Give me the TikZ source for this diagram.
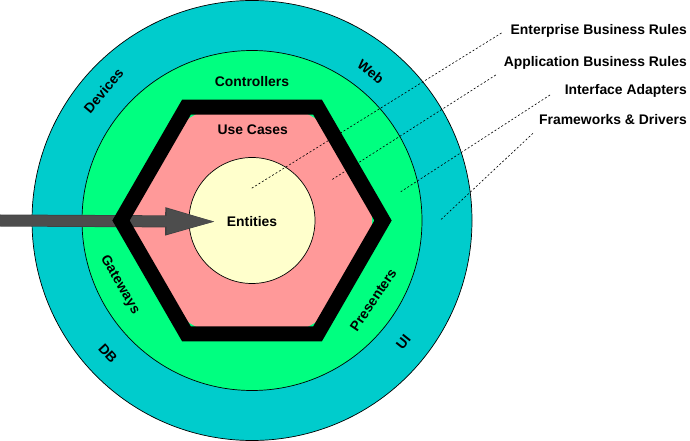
\documentclass[tikz,border=0pt]{standalone}
\usepackage{fontspec}
\setmainfont{Liberation Sans}
\usetikzlibrary{arrows.meta}

\definecolor{ringteal}{HTML}{00CCCC}
\definecolor{ringgreen}{HTML}{00FF80}
\definecolor{ringpink}{HTML}{FF9999}
\definecolor{coreyellow}{HTML}{FFFFCC}
\definecolor{arrowgray}{HTML}{4D4D4D}

\tikzset{
  ring/.style={draw=black, line width=0.7pt},
  lbl/.style={font=\bfseries\fontsize{13.9}{16}\selectfont, inner sep=0pt},
  leader/.style={draw=black, line width=0.6pt, dash pattern=on 2pt off 2pt},
}

\begin{document}
\begin{tikzpicture}[x=1pt,y=1pt]
\useasboundingbox (-252,-220.5) rectangle (438,220.5);
\draw[ring, fill=ringteal] (0,0) circle (220);
\draw[ring, fill=ringgreen] (0,0) circle (170);
\fill[ringpink] (0,0) circle (120);
\draw[ring, fill=coreyellow] (0,0) circle (63);

\node[lbl] (ent) at (0,-1.2) {Entities};
\coordinate (src) at (-252,0);
\draw[black!75, line width=12pt, -{Triangle[length=56pt,width=24pt]}, shorten >=5.5pt] (src) -- (ent.west);
\draw[arrowgray, line width=10.5pt, -{Triangle[length=53.5pt,width=22pt]}, shorten >=6.5pt] (src) -- (ent.west);

\draw[line width=15pt, line join=miter] (0:131) \foreach \a in {60,120,...,300} { -- (\a:131) } -- cycle;

\node[lbl] (uc) at (0.8,90.5) {Use Cases};
\node[lbl] (ctrl) at (0,138.8) {Controllers};
\node[lbl, rotate=-60] (gw) at (206:147) {Gateways};
\node[lbl, rotate=56] (pres) at (-33.2:145) {Presenters};
\node[lbl, rotate=50] (dev) at (138.9:197) {Devices};
\node[lbl, rotate=-38.6] (web) at (51.4:190.5) {Web};
\node[lbl, rotate=-47.3] (db) at (222.7:196) {DB};
\node[lbl, rotate=51.3] (ui) at (-38.7:194) {UI};

\node[lbl, anchor=east] (ebr) at (435,189.5) {Enterprise Business Rules};
\node[lbl, anchor=east] (abr) at (435,157.8) {Application Business Rules};
\node[lbl, anchor=east] (ia) at (435,129.8) {Interface Adapters};
\node[lbl, anchor=east] (fd) at (435,101.2) {Frameworks \& Drivers};

\coordinate (ebr-top) at (249.5,187.5);
\coordinate (ebr-end) at (-1.5,31.5);
\coordinate (abr-top) at (243.8,145.5);
\coordinate (abr-end) at (79.4,40.5);
\coordinate (ia-top) at (298,125.5);
\coordinate (ia-end) at (148.8,28.8);
\coordinate (fd-top) at (281,87.2);
\coordinate (fd-end) at (188.5,0.5);
\draw[leader] (ebr-top) -- (ebr-end);
\draw[leader] (abr-top) -- (abr-end);
\draw[leader] (ia-top) -- (ia-end);
\draw[leader] (fd-top) -- (fd-end);
\end{tikzpicture}
\end{document}
